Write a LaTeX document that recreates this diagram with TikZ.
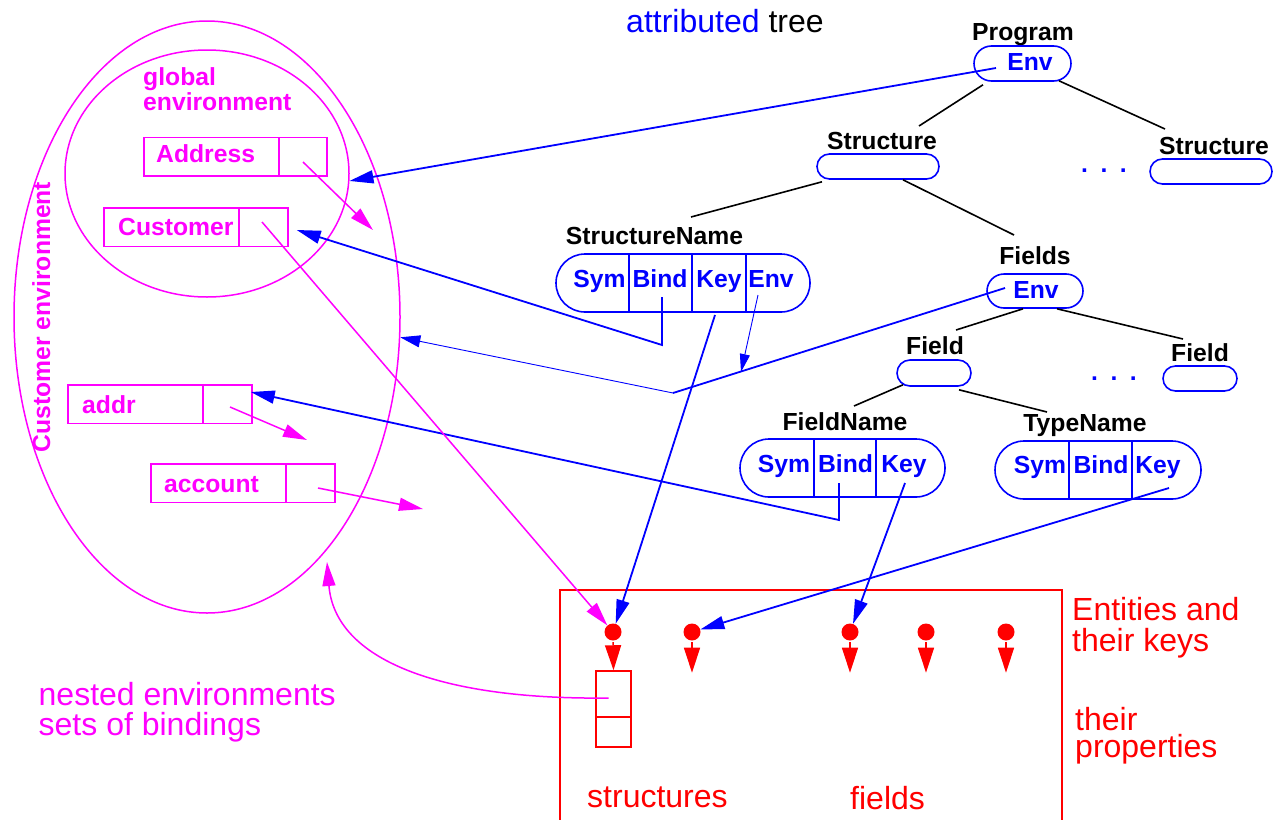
\documentclass[tikz,border=0pt]{standalone}
\usepackage{fontspec}
\setmainfont{Liberation Sans}
\usetikzlibrary{shapes.geometric,shapes.misc,arrows.meta,calc}
\definecolor{mag}{RGB}{255,0,255}
\definecolor{blu}{RGB}{0,0,255}
\definecolor{rd}{RGB}{255,0,0}
\begin{document}
\begin{tikzpicture}[x=1pt,y=-1pt,
  lab/.style={font=\fontsize{24.7}{25}\selectfont\bfseries, inner sep=0pt},
  txt/.style={font=\fontsize{32}{32}\selectfont, inner sep=0pt},
  stad/.style={rounded rectangle, draw=blu, line width=1.6pt, inner sep=0pt},
  mcell/.style={rectangle, draw=mag, line width=1.5pt, inner sep=0pt, minimum height=38.5pt},
  rcell/.style={rectangle, draw=rd, line width=1.5pt, inner sep=0pt, minimum width=35pt},
  dotn/.style={circle, fill=rd, minimum size=17pt, inner sep=0pt},
  tline/.style={draw=black, line width=1.6pt},
  bline/.style={draw=blu, line width=1.8pt},
  bthin/.style={draw=blu, line width=0.9pt},
  marr/.style={draw=mag, line width=1.5pt},
  rarr/.style={draw=rd, line width=1.5pt, -{Triangle[length=25pt,width=16pt]}},
  tipB/.style={-{Triangle[length=24pt,width=13pt]}},
  tipS/.style={-{Triangle[length=18pt,width=10pt]}},
  tipT/.style={-{Triangle[length=20pt,width=12pt]}}
]
\useasboundingbox (0,0) rectangle (1281,819);

% ---------- environments ----------
\node[ellipse, draw=mag, line width=1.5pt, minimum width=386pt, minimum height=592pt, inner sep=0pt] (custenv) at (207,317) {};
\node[ellipse, draw=mag, line width=1.5pt, minimum width=284pt, minimum height=247pt, inner sep=0pt] (glob) at (207,173.5) {};
\node[lab, text=mag, rotate=90, anchor=base] (custenvL) at (50,317) {Customer environment};
\node[lab, text=mag, anchor=base west] (globL1) at (143,85) {global};
\node[lab, text=mag, anchor=base west] (globL2) at (143,110) {environment};

\node[mcell, minimum width=135pt] (AddressN) at (211.5,156.5) {};
\node[mcell, minimum width=48pt] (AddressP) at (303,156.5) {};
\node[lab, text=mag, anchor=base west] (AddressL) at (156,162) {Address};
\node[mcell, minimum width=135pt] (CustomerN) at (171.5,227) {};
\node[mcell, minimum width=49pt] (CustomerP) at (263.5,227) {};
\node[lab, text=mag, anchor=base west] (CustomerL) at (118,235) {Customer};
\node[mcell, minimum width=135pt] (addrN) at (135.5,404) {};
\node[mcell, minimum width=49pt] (addrP) at (227.5,404) {};
\node[lab, text=mag, anchor=base west] (addrL) at (82,413) {addr};
\node[mcell, minimum width=135pt] (accountN) at (218.5,483) {};
\node[mcell, minimum width=49pt] (accountP) at (310.5,483) {};
\node[lab, text=mag, anchor=base west] (accountL) at (164,492) {account};

% ---------- tree ----------
\node[txt, anchor=base west] (title) at (626,32) {\textcolor{blu}{attributed} tree};

\node[lab, anchor=base] (progL) at (1023,40) {Program};
\node[stad, minimum width=97pt, minimum height=35pt] (progB) at (1022.5,63.5) {};
\node[lab, text=blu, anchor=base] (progEnv) at (1030,70) {Env};

\node[lab, anchor=base] (stL) at (882,149) {Structure};
\node[stad, minimum width=122pt, minimum height=25pt] (stB) at (878,166.5) {};
\node[lab, anchor=base] (st2L) at (1214,154) {Structure};
\node[stad, minimum width=122pt, minimum height=25pt] (st2B) at (1211,171.5) {};
\node[lab, text=blu, anchor=base] (dots1) at (1104,172) {.\hspace{12.5pt}.\hspace{12.5pt}.};

\node[lab, anchor=base] (snL) at (654.5,244) {StructureName};
\node[stad, minimum width=254pt, minimum height=58pt] (snB) at (683,283) {};
\draw[blu, line width=1.6pt] (629,254) -- (629,312) (692,254) -- (692,312) (746,254) -- (746,312);
\node[lab, text=blu, anchor=base] (snSym) at (599.5,287) {Sym};
\node[lab, text=blu, anchor=base] (snBind) at (660,287) {Bind};
\node[lab, text=blu, anchor=base] (snKey) at (719,287) {Key};
\node[lab, text=blu, anchor=base] (snEnv) at (771,287) {Env};

\node[lab, anchor=base] (fdsL) at (1035,264) {Fields};
\node[stad, minimum width=96pt, minimum height=34pt] (fdsB) at (1035,291) {};
\node[lab, text=blu, anchor=base] (fdsEnv) at (1036,298) {Env};

\node[lab, anchor=base] (fL) at (935,354) {Field};
\node[stad, minimum width=74pt, minimum height=26pt] (fB) at (934,373) {};
\node[lab, anchor=base] (f2L) at (1200,361) {Field};
\node[stad, minimum width=74pt, minimum height=25pt] (f2B) at (1200,378.5) {};
\node[lab, text=blu, anchor=base] (dots2) at (1114,380) {.\hspace{12.5pt}.\hspace{12.5pt}.};

\node[lab, anchor=base] (fnL) at (845,430) {FieldName};
\node[stad, minimum width=205pt, minimum height=58pt] (fnB) at (842.5,468) {};
\draw[blu, line width=1.6pt] (814,439) -- (814,497) (876,439) -- (876,497);
\node[lab, text=blu, anchor=base] (fnSym) at (784,472) {Sym};
\node[lab, text=blu, anchor=base] (fnBind) at (845.5,472) {Bind};
\node[lab, text=blu, anchor=base] (fnKey) at (904,472) {Key};

\node[lab, anchor=base] (tnL) at (1085,431) {TypeName};
\node[stad, minimum width=206pt, minimum height=58pt] (tnB) at (1098,470) {};
\draw[blu, line width=1.6pt] (1069,441) -- (1069,499) (1132,441) -- (1132,499);
\node[lab, text=blu, anchor=base] (tnSym) at (1040,473) {Sym};
\node[lab, text=blu, anchor=base] (tnBind) at (1101,473) {Bind};
\node[lab, text=blu, anchor=base] (tnKey) at (1158,473) {Key};

% tree edges
\draw[tline] ($(progB.south)+(-39.5,3)$) -- ($(stL.base)+(37,-23)$);
\draw[tline] ($(progB.south)+(36.5,-1)$) -- ($(st2L.base)+(-49,-25)$);
\draw[tline] ($(stB.south)+(-56,2)$) -- ($(snL.base)+(36.5,-27)$);
\draw[tline] ($(stB.south)+(25,0)$) -- ($(fdsL.base)+(-21,-29)$);
\draw[tline] ($(fdsB.south)+(-12,0)$) -- ($(fL.base)+(21,-24)$);
\draw[tline] ($(fdsB.south)+(22,0)$) -- ($(f2L.base)+(-17,-22)$);
\draw[tline] ($(fB.south)+(-31,-2)$) -- ($(fnL.base)+(9,-24)$);
\draw[tline] ($(fB.south)+(25,3)$) -- ($(tnL.base)+(-38,-19)$);

% ---------- entity store ----------
\draw[rd, line width=1.5pt] (560,822) -- (560,590) -- (1062,590) -- (1062,822);
\node[dotn] (d1) at (613,632) {};
\node[dotn] (d2) at (692,632) {};
\node[dotn] (d3) at (850,632) {};
\node[dotn] (d4) at (926,632) {};
\node[dotn] (d5) at (1006,632) {};
\node[rcell, minimum height=46pt] (pt) at (613.5,694) {};
\node[rcell, minimum height=30pt] (pb) at (613.5,732) {};
\draw[rarr] ($(d1.south)+(0,1.5)$) -- (pt.north);
\draw[rarr] ($(d2.south)+(0,1.5)$) -- ++(0,30.5);
\draw[rarr] ($(d3.south)+(0,1.5)$) -- ++(0,30.5);
\draw[rarr] ($(d4.south)+(0,1.5)$) -- ++(0,30.5);
\draw[rarr] ($(d5.south)+(0,1.5)$) -- ++(0,30.5);

\node[txt, text=rd, anchor=base west] (ent1) at (1072,620) {Entities and};
\node[txt, text=rd, anchor=base west] (ent2) at (1072,651) {their keys};
\node[txt, text=rd, anchor=base west] (prop1) at (1075,730) {their};
\node[txt, text=rd, anchor=base west] (prop2) at (1075,757) {properties};
\node[txt, text=rd, anchor=base west] (structs) at (587,807) {structures};
\node[txt, text=rd, anchor=base west] (fieldsT) at (850,809) {fields};
\node[txt, text=mag, anchor=base west] (nest1) at (38.5,705) {nested environments};
\node[txt, text=mag, anchor=base west] (nest2) at (38.5,735) {sets of bindings};

% ---------- blue connectors ----------
\draw[bline, tipB] ($(progEnv.base)+(-34,-2)$) -- (glob.-3);
\draw[bline, tipB] ($(snBind.base)+(2,10)$) -- ++(0,48) -- ($(CustomerP.east)+(8,3)$);
\draw[bline, tipB] ($(snKey.base)+(-4,28)$) -- (d1);
\coordinate (junc) at (741,372);
\coordinate (fjunc) at (673,393);
\draw[bthin, tipS] ($(snEnv.base)+(-13,8)$) -- (junc);
\draw[bline] ($(fdsEnv.base)+(-31,-10)$) -- (fjunc);
\draw[bthin, tipT] (fjunc) -- (custenv.-6);
\draw[bline, tipB] ($(fnBind.base)+(-6.5,11)$) -- ++(0,37) -- ($(addrP.east)+(-2,-12)$);
\draw[bline, tipB] ($(fnKey.base)+(1,11)$) -- (d3);
\draw[bline, tipB] ($(tnKey.base)+(11,15)$) -- (d2);

% ---------- magenta connectors ----------
\coordinate (mA) at (373,230);
\coordinate (mB) at (307,440);
\coordinate (mC) at (423,509);
\coordinate (envtip) at (327,562);
\draw[marr, tipB] ($(AddressP.center)+(0,5.5)$) -- (mA);
\draw[marr, tipB] ($(CustomerP.center)+(-1.5,-5)$) -- (d1);
\draw[marr, tipB] ($(addrP.center)+(2.5,3)$) -- (mB);
\draw[marr, tipB] ($(accountP.center)+(7.5,5)$) -- (mC);
\draw[marr, tipB] ($(pt.center)+(-5,4)$) .. controls (440,700) and (335,660) .. (envtip);
\end{tikzpicture}
\end{document}
